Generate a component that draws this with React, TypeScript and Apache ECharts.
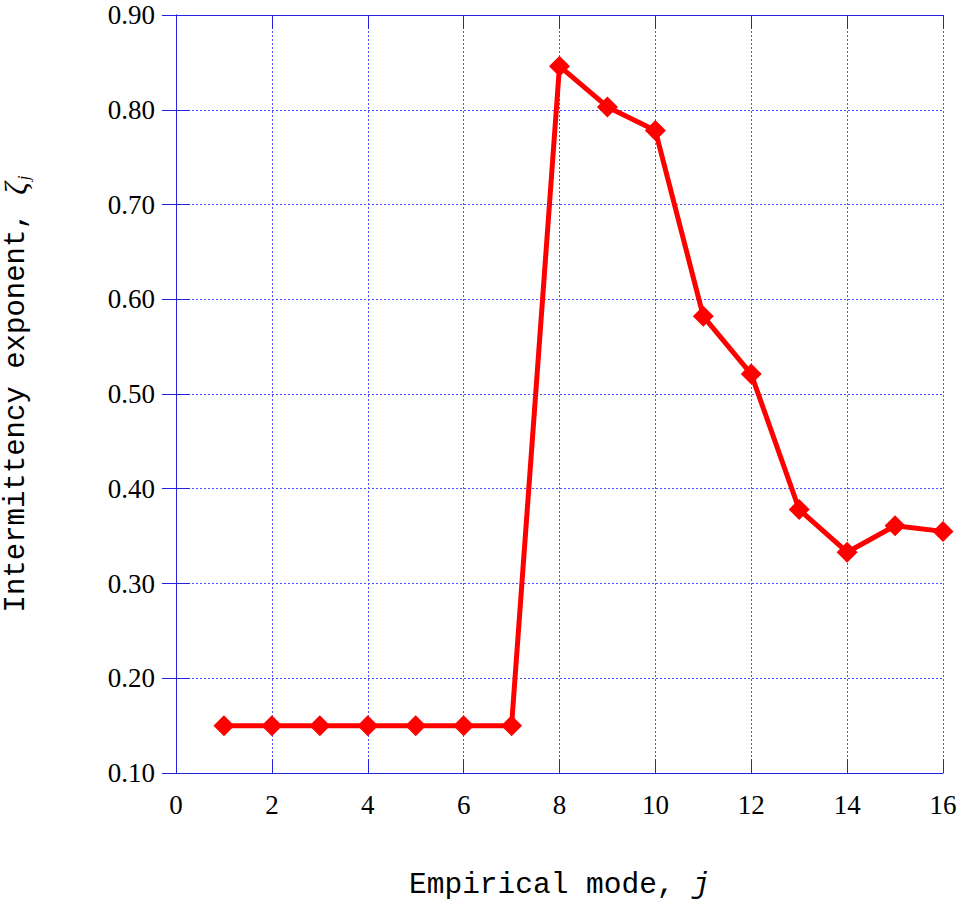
import { useEffect, useRef } from 'react'
import * as echarts from 'echarts'

const modes = [1, 2, 3, 4, 5, 6, 7, 8, 9, 10, 11, 12, 13, 14, 15, 16]
const exponents = [0.15, 0.15, 0.15, 0.15, 0.15, 0.15, 0.15, 0.846, 0.803, 0.778, 0.582, 0.521, 0.378, 0.333, 0.361, 0.355]

const blue = '#2323e0'
const gridBlue = '#4d4dff'

export default function App() {
  const main = useRef<HTMLDivElement>(null)
  useEffect(() => {
    document.body.style.margin = '0'
    const chart = echarts.init(main.current, null, { renderer: 'svg' })
    const tick = { show: true, inside: true, length: 14, lineStyle: { color: blue, width: 1 } }
    const option = {
      animation: false,
      backgroundColor: '#ffffff',
      grid: { left: 176, right: 15, top: 15, bottom: 130, outerBoundsMode: 'none', containLabel: false },
      xAxis: [
        {
          type: 'value',
          min: 0,
          max: 16,
          interval: 2,
          axisLine: { show: true, lineStyle: { color: blue, width: 1 } },
          axisTick: tick,
          splitLine: { show: true, lineStyle: { color: gridBlue, width: 1, type: [2, 2] } },
          axisLabel: { color: '#000', fontFamily: 'Liberation Serif', fontSize: 27, lineHeight: 24, margin: 20 },
          name: '{t|Empirical mode, }{j|j}',
          nameLocation: 'middle',
          nameGap: 100,
          nameTextStyle: {
            rich: {
              t: { fontFamily: 'Liberation Mono', fontSize: 29.5, lineHeight: 24, color: '#000' },
              j: { fontFamily: 'Liberation Mono', fontSize: 29.5, lineHeight: 24, fontStyle: 'italic', color: '#000' },
            },
          },
        },
        {
          type: 'value',
          position: 'top',
          min: 0,
          max: 16,
          interval: 2,
          axisLine: { show: true, lineStyle: { color: blue, width: 1 } },
          axisTick: tick,
          splitLine: { show: false },
          axisLabel: { show: false },
        },
      ],
      yAxis: [
        {
          type: 'value',
          min: 0.1,
          max: 0.9,
          interval: 0.1,
          axisLine: { show: true, lineStyle: { color: blue, width: 1 } },
          axisTick: tick,
          splitLine: { show: true, lineStyle: { color: gridBlue, width: 1, type: [2, 2] } },
          axisLabel: {
            color: '#000',
            fontFamily: 'Liberation Serif',
            fontSize: 27,
            lineHeight: 22,
            margin: 21,
            formatter: (v: number) => v.toFixed(2),
          },
          name: '{t|Intermittency exponent, }{z|ζ}{s|j}',
          nameLocation: 'middle',
          nameGap: 144,
          nameRotate: 90,
          nameTextStyle: {
            rich: {
              t: { fontFamily: 'Liberation Mono', fontSize: 29, color: '#000' },
              z: { fontFamily: 'Liberation Serif', fontSize: 31, fontStyle: 'italic', color: '#000' },
              s: { fontFamily: 'Liberation Serif', fontSize: 17, fontStyle: 'italic', color: '#000', padding: [14, 0, 0, 2] },
            },
          },
        },
        {
          type: 'value',
          position: 'right',
          min: 0.1,
          max: 0.9,
          interval: 0.1,
          axisLine: { show: true, lineStyle: { color: blue, width: 1 } },
          axisTick: tick,
          splitLine: { show: false },
          axisLabel: { show: false },
        },
      ],
      series: [
        {
          type: 'line',
          data: modes.map((m, i) => [m, exponents[i]]),
          symbol: 'diamond',
          symbolSize: 21,
          lineStyle: { color: '#ff0000', width: 5 },
          itemStyle: { color: '#ff0000' },
        },
      ],
    }
    chart.setOption(option)
    return () => {
      chart.dispose()
    }
  }, [])
  return <div ref={main} style={{ width: '958px', height: '903px' }}></div>
}
